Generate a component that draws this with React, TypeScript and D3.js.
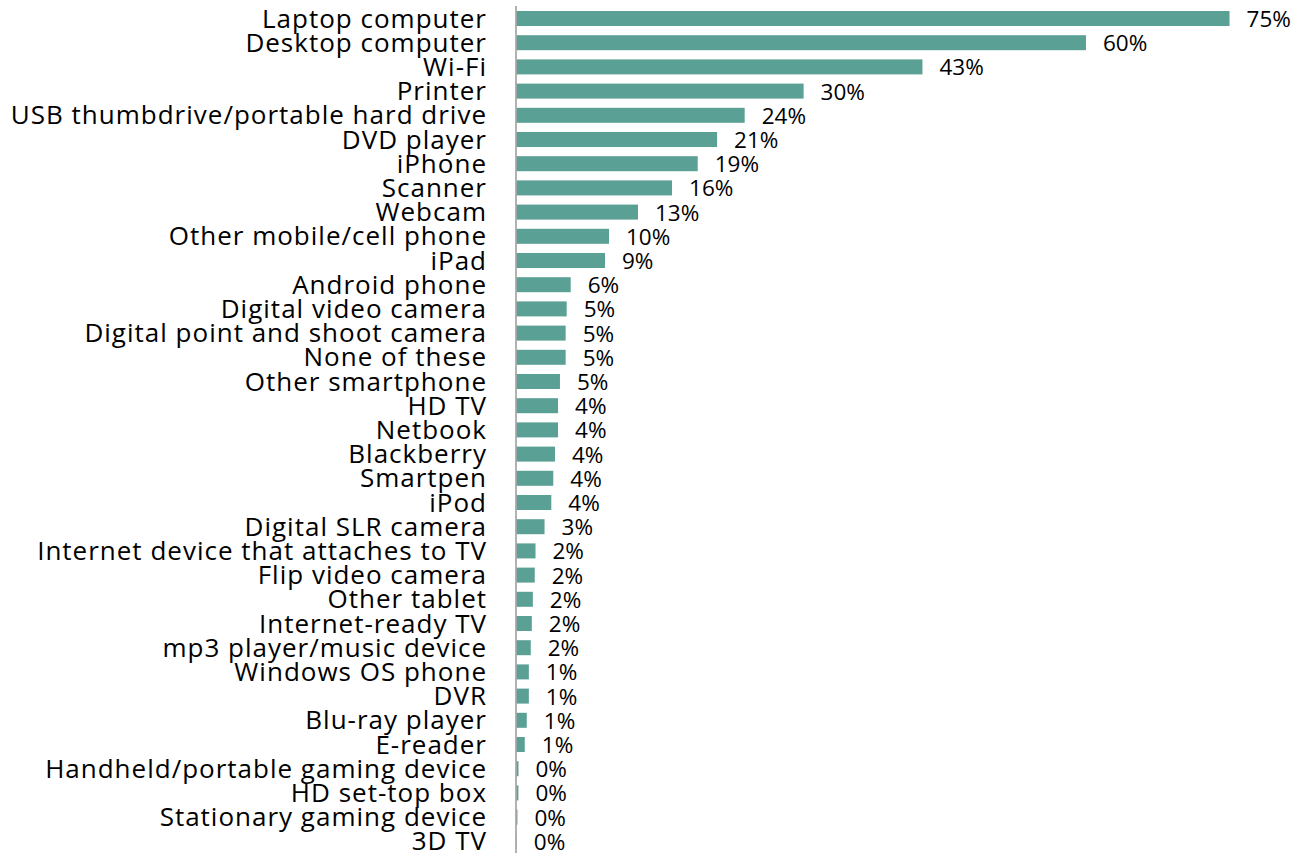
import React from "react";
import * as d3 from "d3";

const categories: string[] = [
  "Laptop computer",
  "Desktop computer",
  "Wi-Fi",
  "Printer",
  "USB thumbdrive/portable hard drive",
  "DVD player",
  "iPhone",
  "Scanner",
  "Webcam",
  "Other mobile/cell phone",
  "iPad",
  "Android phone",
  "Digital video camera",
  "Digital point and shoot camera",
  "None of these",
  "Other smartphone",
  "HD TV",
  "Netbook",
  "Blackberry",
  "Smartpen",
  "iPod",
  "Digital SLR camera",
  "Internet device that attaches to TV",
  "Flip video camera",
  "Other tablet",
  "Internet-ready TV",
  "mp3 player/music device",
  "Windows OS phone",
  "DVR",
  "Blu-ray player",
  "E-reader",
  "Handheld/portable gaming device",
  "HD set-top box",
  "Stationary gaming device",
  "3D TV",
];

// percent values
const values: number[] = [
  75.0, 59.9, 42.7, 30.2, 24.0, 21.1, 19.06, 16.36, 12.78, 9.73, 9.31,
  5.7, 5.28, 5.17, 5.17, 4.57, 4.37, 4.37, 4.05, 3.87, 3.66,
  2.95, 2.0, 1.92, 1.72, 1.61, 1.5, 1.3, 1.3, 1.08, 0.87,
  0.21, 0.2, 0.1, 0.03,
];

const W = 1305;
const H = 853;
const x0 = 516.5;
const unit = 9.507;
const BAR = "#5ba094";

export default function App() {
  const x = d3.scaleLinear().domain([0, 80]).range([x0, x0 + 80 * unit]);
  const y = d3
    .scaleBand<string>()
    .domain(categories)
    .range([6.4, 853.4])
    .paddingInner(0.38)
    .paddingOuter(0.19);
  const fmt = d3.format(".0f");

  return (
    <svg
      width={W}
      height={H}
      style={{ position: "absolute", left: 0, top: 0, background: "#fff" }}
    >
      {categories.map((c, i) => {
        const yy = y(c)!;
        const cy = yy + y.bandwidth() / 2;
        return (
          <g key={c}>
            <rect
              x={x(0)}
              y={yy}
              width={Math.max(0, x(values[i]) - x(0))}
              height={y.bandwidth()}
              fill={BAR}
            />
            <text
              x={487}
              y={cy + 9}
              textAnchor="end"
              fontFamily="'Open Sans', sans-serif"
              fontSize={26}
              letterSpacing={1.0}
              fill="#000"
            >
              {c}
            </text>
            <text
              x={x(values[i]) + 17}
              y={cy + 8.5}
              fontFamily="'Open Sans', sans-serif"
              fontSize={22.5}
              fill="#000"
            >
              {fmt(values[i]) + "%"}
            </text>
          </g>
        );
      })}
      <line
        x1={516}
        x2={516}
        y1={6}
        y2={H}
        stroke="#999"
        strokeWidth={1.5}
      />
    </svg>
  );
}
